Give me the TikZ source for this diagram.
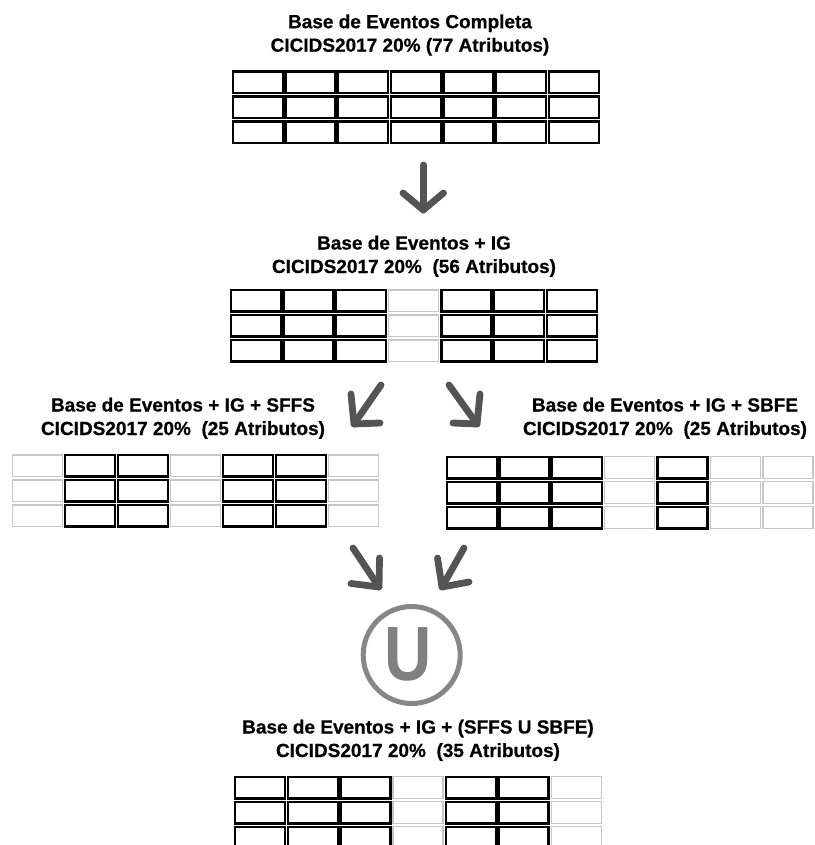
\documentclass[tikz,border=0pt]{standalone}
\usepackage{fontspec}
\setmainfont{Liberation Sans}[FakeBold=0.6]
\newfontfamily\unionfont{Liberation Sans}
\begin{document}
\begin{tikzpicture}[x=1pt,y=-1pt,
  title/.style={font=\bfseries\fontsize{19}{23.5}\selectfont, align=center, anchor=base, inner sep=0pt},
  dark cell/.style={draw=black, line width=2.4pt},
  light cell/.style={draw=black!22, line width=1.3pt},
  flow/.style={draw=black!67, line width=6.8pt, line cap=round, line join=round},
]
\useasboundingbox (0,0) rectangle (814,845);
\clip (0,0) rectangle (814,845);

% attribute table: 7 columns x 3 rows, column pattern given as dark/light
\newcommand\attrgrid[3]{%
  \foreach \s [count=\c from 0] in {#3}{
    \foreach \r in {0,1,2}{
      \draw[\s\space cell] ({#1+\c*52.7},{#2+\r*25}) rectangle ++(50,21.6);
    }
  }
}

% titles (anchored at the baseline of their second line)
\node[title] (t1) at (410,51.7) {Base de Eventos Completa\\CICIDS2017 20\% (77 Atributos)};
\node[title] (t2) at (414,273) {Base de Eventos + IG\\CICIDS2017 20\%~~(56 Atributos)};
\node[title] (t3) at (183,435) {Base de Eventos + IG + SFFS\\CICIDS2017 20\%~~(25 Atributos)};
\node[title] (t4) at (665,435) {Base de Eventos + IG + SBFE\\CICIDS2017 20\%~~(25 Atributos)};
\node[title] (t5) at (418,757) {Base de Eventos + IG + (SFFS U SBFE)\\CICIDS2017 20\%~~(35 Atributos)};

% tables
\attrgrid{232.7}{71.7}{dark,dark,dark,dark,dark,dark,dark}
\attrgrid{230.7}{290}{dark,dark,dark,light,dark,dark,dark}
\attrgrid{12.3}{455}{light,dark,dark,light,dark,dark,light}
\attrgrid{446.7}{456.7}{dark,dark,dark,light,dark,light,light}
\attrgrid{235}{776.7}{dark,dark,dark,light,dark,dark,light}

% arrows
\coordinate (a1s) at (423.3,165);   \coordinate (a1t) at (423.3,210);
\coordinate (a1l) at (403,193);     \coordinate (a1r) at (443.5,193);
\draw[flow] (a1s) -- (a1t);
\draw[flow] (a1l) -- (a1t) -- (a1r);

\coordinate (a2s) at (381,385);     \coordinate (a2t) at (354,424);
\coordinate (a2l) at (351,394);     \coordinate (a2r) at (380,423);
\draw[flow] (a2s) -- (a2t);
\draw[flow] (a2l) -- (a2t) -- (a2r);

\coordinate (a3s) at (449,385);     \coordinate (a3t) at (477,424);
\coordinate (a3l) at (480,394);     \coordinate (a3r) at (453,423);
\draw[flow] (a3s) -- (a3t);
\draw[flow] (a3l) -- (a3t) -- (a3r);

\coordinate (a4s) at (353,548);     \coordinate (a4t) at (379,587);
\coordinate (a4l) at (379.5,558);   \coordinate (a4r) at (351,583.5);
\draw[flow] (a4s) -- (a4t);
\draw[flow] (a4l) -- (a4t) -- (a4r);

\coordinate (a5s) at (464,548);     \coordinate (a5t) at (442,587);
\coordinate (a5l) at (437.5,558);   \coordinate (a5r) at (469,582);
\draw[flow] (a5s) -- (a5t);
\draw[flow] (a5l) -- (a5t) -- (a5r);

% union symbol
\node[circle, draw=black!47, line width=5pt, minimum size=97pt, inner sep=0pt] (union) at (411.7,655) {};
\node[text=black!50, inner sep=0pt, font=\unionfont\bfseries\fontsize{77}{77}\selectfont] (ulet) at (408.5,654) {\scalebox{0.85}[1]{U}};
\end{tikzpicture}
\end{document}
